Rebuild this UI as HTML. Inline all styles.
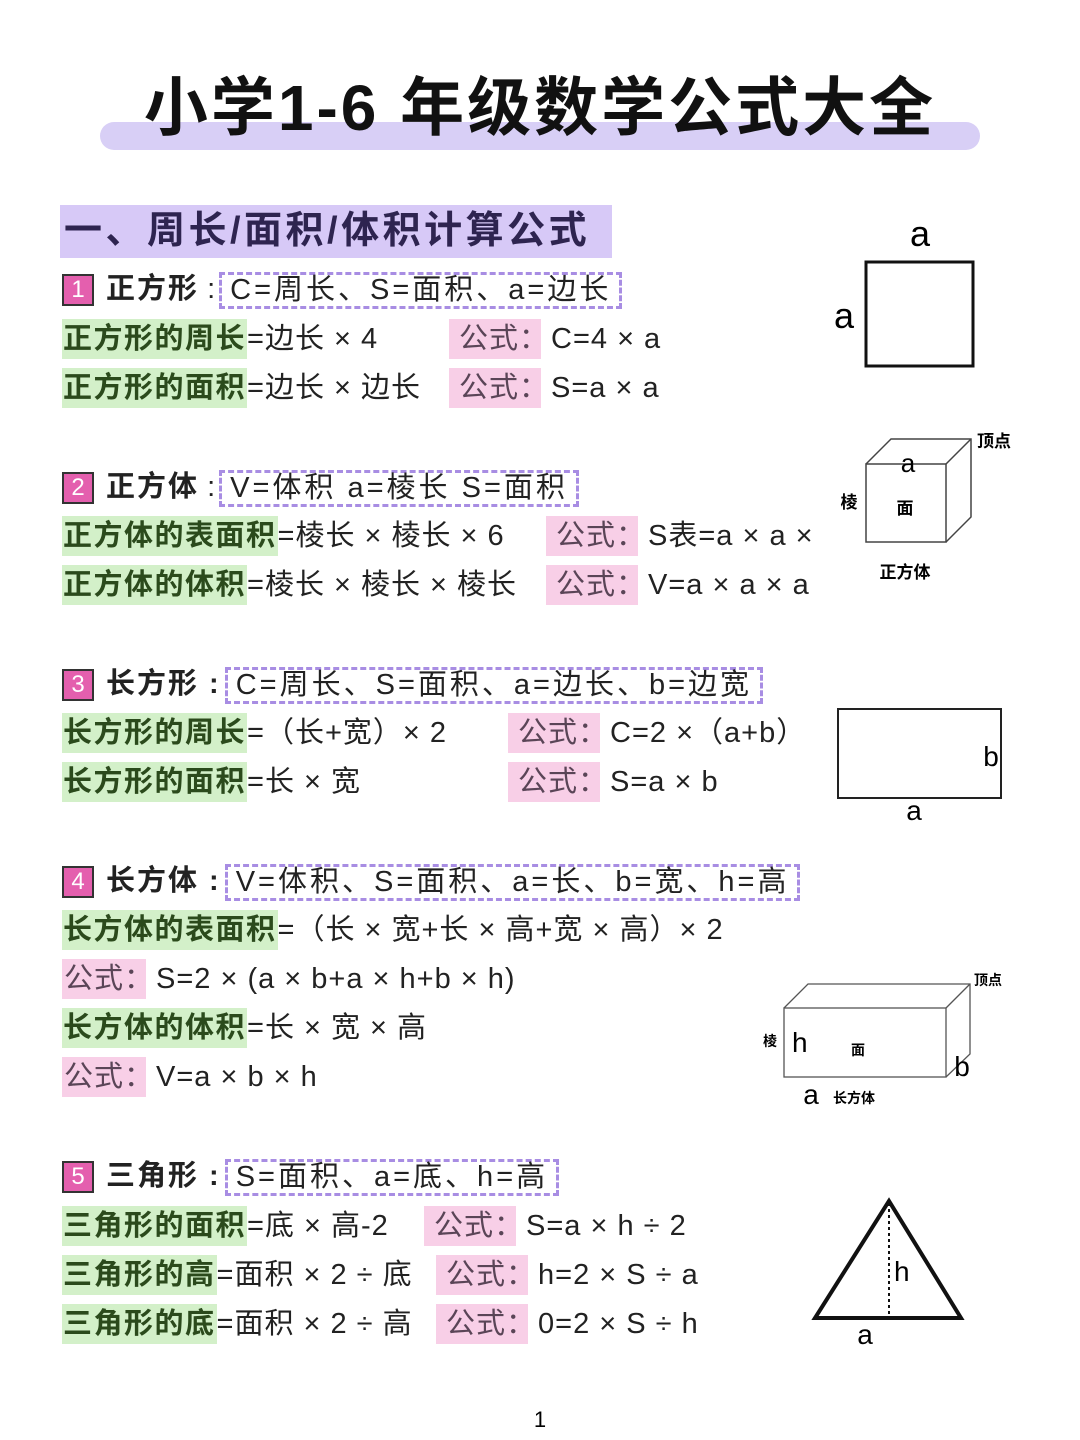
<!DOCTYPE html>
<html><head><meta charset="utf-8"><style>
body{margin:0;width:1080px;height:1440px;background:#fff;position:relative;overflow:hidden;font-family:"Liberation Sans","Noto Sans CJK SC",sans-serif;color:#222}
.a{position:absolute;white-space:nowrap}
.ln{position:absolute;left:62px;height:40px;line-height:40px;font-size:29px;white-space:nowrap;letter-spacing:1px}
.g{background:#d3f0c9;color:#2b4a1c;font-weight:bold;padding:0 1px;display:inline-block;letter-spacing:1.5px}
.p{position:absolute;height:40px;line-height:40px;font-size:29px;white-space:nowrap;letter-spacing:1px}
.pk{background:#f8cfe7;color:#5a4557;display:inline-block;vertical-align:top;height:40px;padding:0 4px 0 10px;margin-right:10px;width:78px;overflow:hidden}
.hd{position:absolute;left:62px;height:40px;line-height:40px;font-size:29px;white-space:nowrap}
.bd{display:inline-block;width:28px;height:28px;background:#e45fae;border:2px solid #333;color:#fff;font-size:24px;line-height:28px;text-align:center;vertical-align:middle;margin-right:12px;font-weight:normal}
.hb{font-weight:bold;color:#222;letter-spacing:2px}
.bx{display:inline-block;border:3px dashed #a88de3;height:31px;line-height:31px;padding:0 8px;vertical-align:middle;margin-left:4px;letter-spacing:3px}
</style></head><body>
<div class="a" style="left:100px;top:122px;width:880px;height:28px;background:#d8cff6;border-radius:14px"></div>
<div class="a" style="left:0;width:1080px;top:68px;text-align:center;font-size:64px;font-weight:bold;color:#111;line-height:80px;letter-spacing:3px">小学1-6 年级数学公式大全</div>
<div class="a" style="left:60px;top:205px;width:552px;height:53px;background:#d7c9f7"></div>
<div class="a" style="left:64px;top:205px;line-height:53px;font-size:38px;font-weight:bold;color:#2e2450;letter-spacing:3.5px">一、周长/面积/体积计算公式</div>

<div class="hd" style="top:269px"><span class="bd">1</span><span class="hb">正方形</span> :<span class="bx">C=周长、S=面积、a=边长</span></div>
<div class="ln" style="top:319px"><span class="g">正方形的周长</span>=边长 × 4</div>
<div class="p" style="left:449px;top:319px"><span class="pk">公式：</span>C=4 × a</div>
<div class="ln" style="top:368px"><span class="g">正方形的面积</span>=边长 × 边长</div>
<div class="p" style="left:449px;top:368px"><span class="pk">公式：</span>S=a × a</div>

<div class="hd" style="top:467px"><span class="bd">2</span><span class="hb">正方体</span> :<span class="bx">V=体积 a=棱长 S=面积</span></div>
<div class="ln" style="top:516px"><span class="g">正方体的表面积</span>=棱长 × 棱长 × 6</div>
<div class="p" style="left:546px;top:516px"><span class="pk">公式：</span>S表=a × a ×</div>
<div class="ln" style="top:565px"><span class="g">正方体的体积</span>=棱长 × 棱长 × 棱长</div>
<div class="p" style="left:546px;top:565px"><span class="pk">公式：</span>V=a × a × a</div>

<div class="hd" style="top:664px"><span class="bd">3</span><span class="hb">长方形 :</span><span class="bx">C=周长、S=面积、a=边长、b=边宽</span></div>
<div class="ln" style="top:713px"><span class="g">长方形的周长</span>=（长+宽）× 2</div>
<div class="p" style="left:508px;top:713px"><span class="pk">公式：</span>C=2 ×（a+b）</div>
<div class="ln" style="top:762px"><span class="g">长方形的面积</span>=长 × 宽</div>
<div class="p" style="left:508px;top:762px"><span class="pk">公式：</span>S=a × b</div>

<div class="hd" style="top:861px"><span class="bd">4</span><span class="hb">长方体 :</span><span class="bx">V=体积、S=面积、a=长、b=宽、h=高</span></div>
<div class="ln" style="top:910px"><span class="g">长方体的表面积</span>=（长 × 宽+长 × 高+宽 × 高）× 2</div>
<div class="p" style="left:62px;top:959px"><span class="pk" style="padding-left:2px">公式：</span>S=2 × (a × b+a × h+b × h)</div>
<div class="ln" style="top:1008px"><span class="g">长方体的体积</span>=长 × 宽 × 高</div>
<div class="p" style="left:62px;top:1057px"><span class="pk" style="padding-left:2px">公式：</span>V=a × b × h</div>

<div class="hd" style="top:1156px"><span class="bd">5</span><span class="hb">三角形 :</span><span class="bx">S=面积、a=底、h=高</span></div>
<div class="ln" style="top:1206px"><span class="g">三角形的面积</span>=底 × 高-2</div>
<div class="p" style="left:424px;top:1206px"><span class="pk">公式：</span>S=a × h ÷ 2</div>
<div class="ln" style="top:1255px"><span class="g">三角形的高</span>=面积 × 2 ÷ 底</div>
<div class="p" style="left:436px;top:1255px"><span class="pk">公式：</span>h=2 × S ÷ a</div>
<div class="ln" style="top:1304px"><span class="g">三角形的底</span>=面积 × 2 ÷ 高</div>
<div class="p" style="left:436px;top:1304px"><span class="pk">公式：</span>0=2 × S ÷ h</div>

<svg class="a" style="left:0;top:0" width="1080" height="1440" font-family="Liberation Sans, Noto Sans CJK SC, sans-serif">
<rect x="866" y="262" width="107" height="104" fill="none" stroke="#111" stroke-width="3"/>
<text x="920" y="246" font-size="36" text-anchor="middle">a</text>
<text x="844" y="328" font-size="36" text-anchor="middle">a</text>
<g stroke="#444" stroke-width="1.5" fill="none">
<rect x="866" y="464" width="80" height="78"/>
<polyline points="866,464 891,439 971,439 971,517 946,542"/>
<line x1="946" y1="464" x2="971" y2="439"/>
</g>
<text x="908" y="472" font-size="26" text-anchor="middle">a</text>
<text x="905" y="514" font-size="17" font-weight="bold" text-anchor="middle">面</text>
<text x="849" y="508" font-size="17" font-weight="bold" text-anchor="middle">棱</text>
<text x="994" y="447" font-size="17" font-weight="bold" text-anchor="middle">顶点</text>
<text x="905" y="578" font-size="17" font-weight="bold" text-anchor="middle">正方体</text>
<rect x="838" y="709" width="163" height="89" fill="none" stroke="#222" stroke-width="2"/>
<text x="991" y="766" font-size="28" text-anchor="middle">b</text>
<text x="914" y="820" font-size="28" text-anchor="middle">a</text>
<g stroke="#555" stroke-width="1.3" fill="none">
<rect x="784" y="1008" width="162" height="69"/>
<polyline points="784,1008 808,984 970,984 970,1054 946,1077"/>
<line x1="946" y1="1008" x2="970" y2="984"/>
</g>
<text x="792" y="1052" font-size="28">h</text>
<text x="770" y="1046" font-size="14" font-weight="bold" text-anchor="middle">棱</text>
<text x="858" y="1055" font-size="14" font-weight="bold" text-anchor="middle">面</text>
<text x="988" y="985" font-size="14" font-weight="bold" text-anchor="middle">顶点</text>
<text x="962" y="1076" font-size="28" text-anchor="middle">b</text>
<text x="811" y="1104" font-size="28" text-anchor="middle">a</text>
<text x="854" y="1103" font-size="14" font-weight="bold" text-anchor="middle">长方体</text>
<polygon points="889,1201 815,1318 961,1318" fill="none" stroke="#111" stroke-width="4" stroke-linejoin="miter"/>
<line x1="889" y1="1203" x2="889" y2="1316" stroke="#111" stroke-width="2" stroke-dasharray="3,3"/>
<text x="894" y="1281" font-size="28">h</text>
<text x="865" y="1344" font-size="28" text-anchor="middle">a</text>
<text x="540" y="1427" font-size="22" text-anchor="middle">1</text>
</svg>
</body></html>
